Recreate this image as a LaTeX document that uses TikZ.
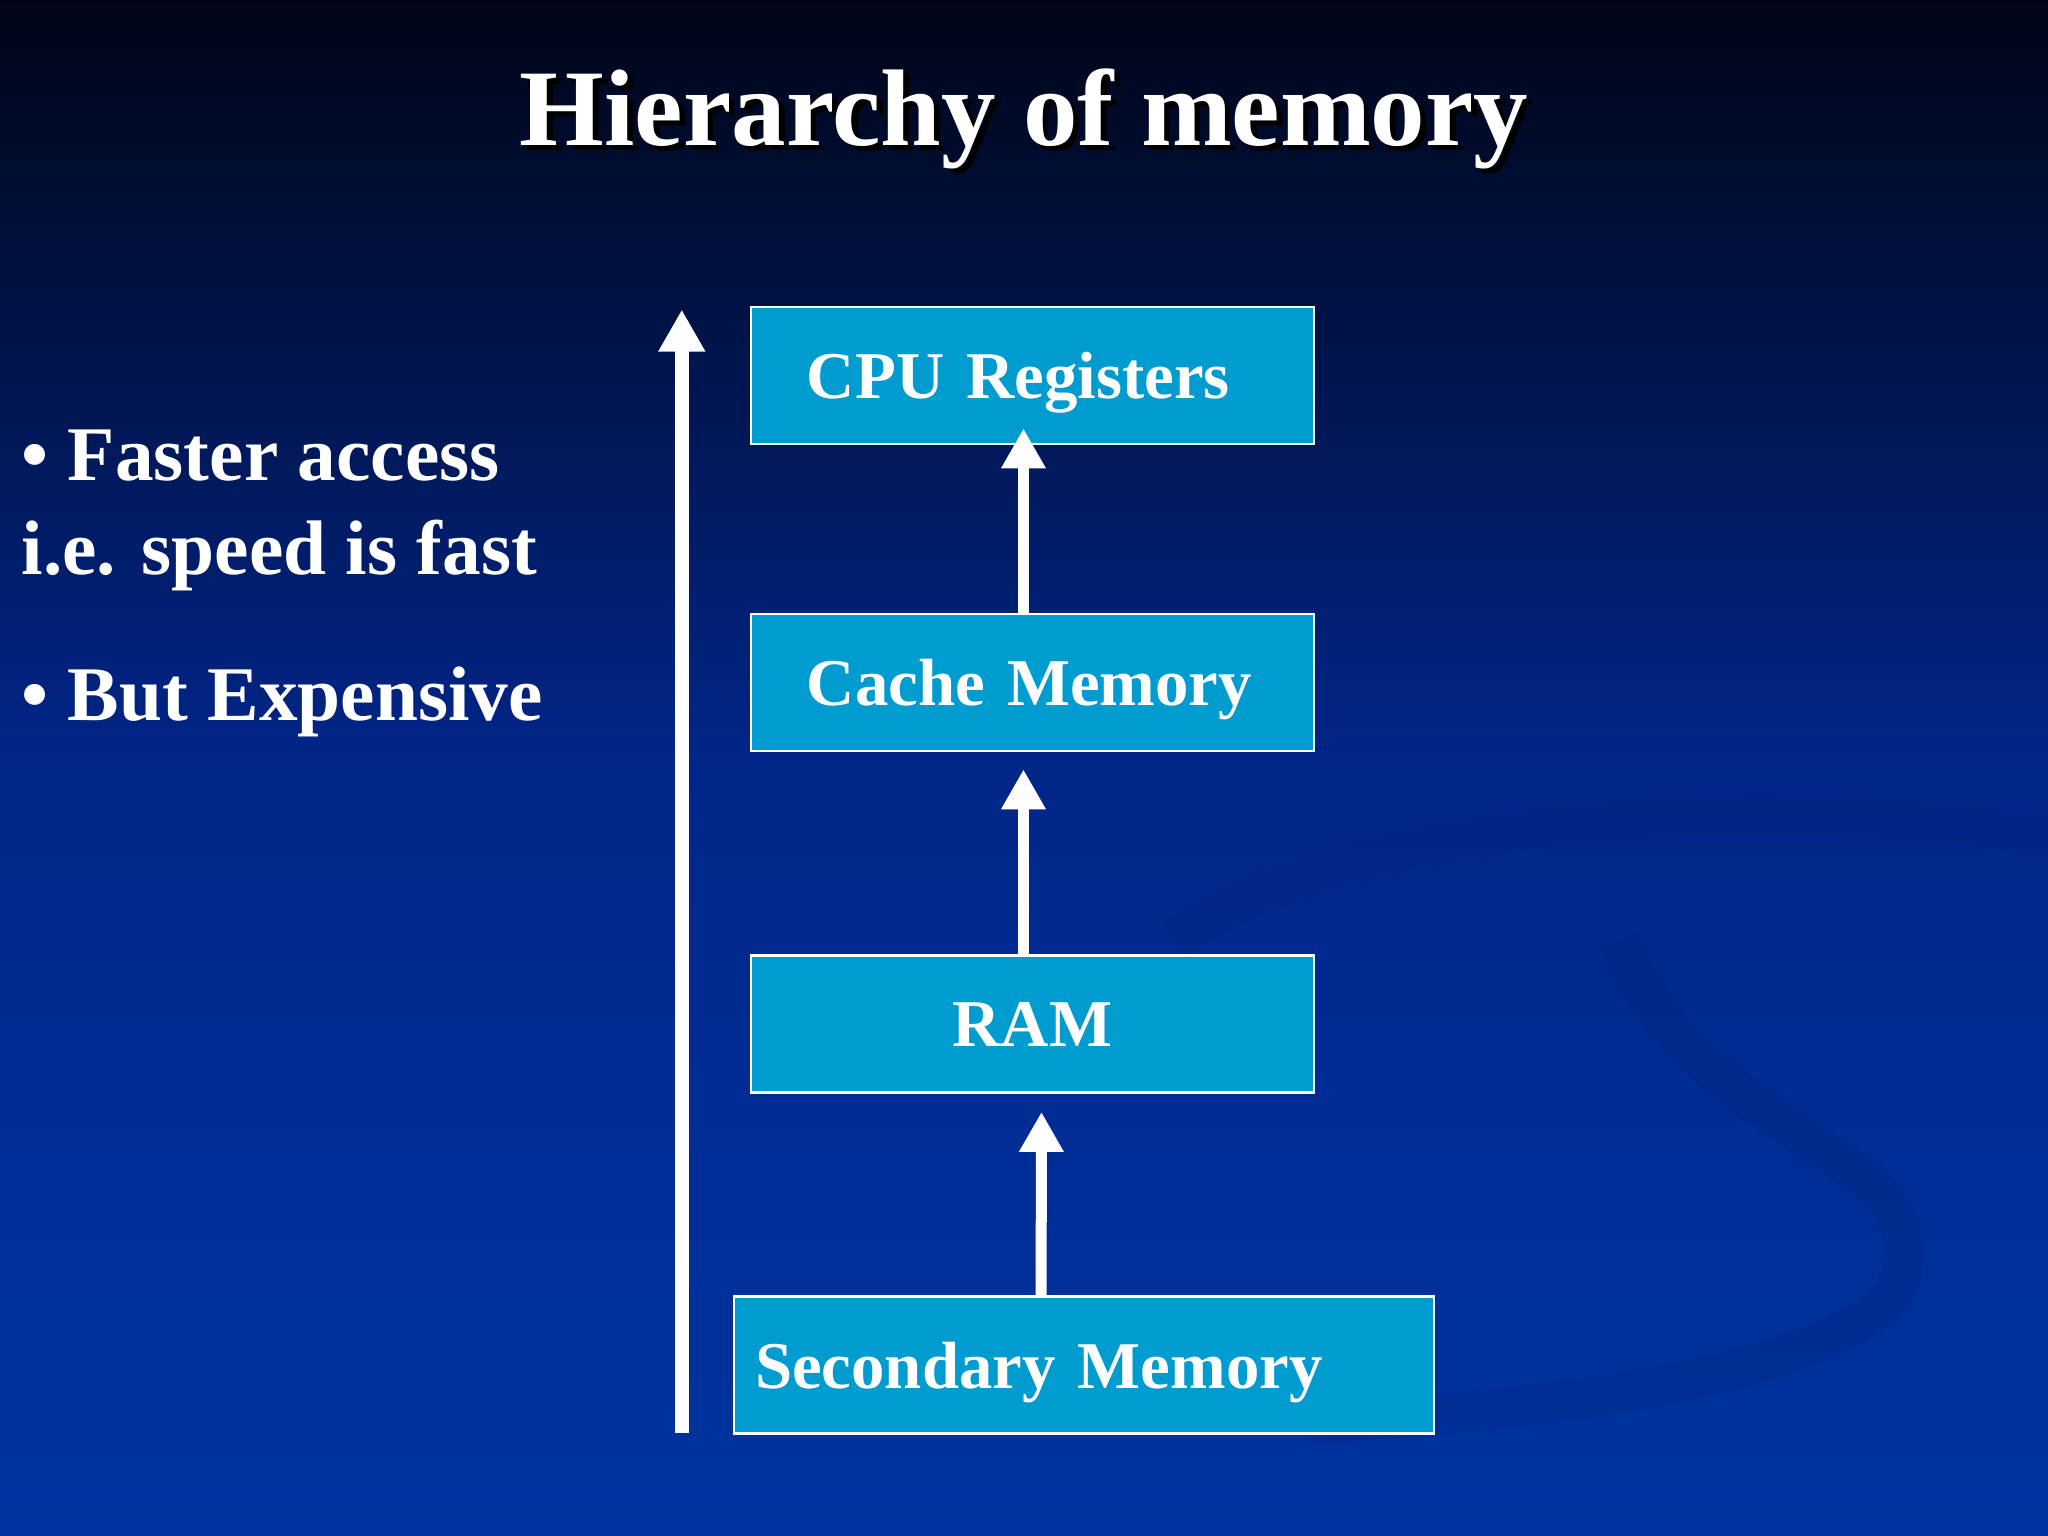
\documentclass[tikz,border=0pt]{standalone}
\usepackage{fontspec}
\setmainfont{Liberation Serif}
\usetikzlibrary{arrows.meta}
\definecolor{boxc}{HTML}{009BCF}
\definecolor{bgtop}{HTML}{000516}
\definecolor{bgmid}{HTML}{01268A}
\definecolor{bgbot}{HTML}{0034A0}
\begin{document}
\begin{tikzpicture}[x=0.0130612cm,y=-0.0130612cm,
  box/.style={draw=white,line width=0.8pt,fill=boxc,text=white,font=\bfseries\fontsize{19}{24}\selectfont,minimum height=1.37cm,inner ysep=0pt,text depth=-0.2cm},
  arr/.style={draw=white,line width=0.11cm,-{Triangle[width=0.42cm,length=0.4cm]}},
  txt/.style={text=white,font=\bfseries\fontsize{22}{28}\selectfont,anchor=base west,inner sep=0pt}]
\useasboundingbox (0,0) rectangle (1568,1176);
\shade[top color=bgtop,bottom color=bgbot,middle color=bgmid] (0,0) rectangle (1568,1176);
\draw[bgmid!80!black,line width=0.4cm,opacity=0.18] (900,720) .. controls (1000,640) and (1300,600) .. (1568,640);
\draw[bgmid!80!black,line width=0.4cm,opacity=0.18] (1240,720) .. controls (1300,880) and (1500,880) .. (1450,990) .. controls (1400,1050) and (1200,1080) .. (1000,1090);
\node[text=white,font=\bfseries\fontsize{31}{38}\selectfont] (title) at (784,93) {\rlap{\hspace{1.6pt}\raisebox{-1.6pt}{\color{black}Hierarchy of memory}}Hierarchy of memory};
\node[box,inner xsep=0.56cm,text width=4.51cm,align=left] (cpu) at (790.5,287.5) {\mbox{CPU Registers}};
\node[box,inner xsep=0.56cm,text width=4.51cm,align=left] (cache) at (790.5,522.5) {\mbox{Cache Memory}};
\node[box,inner xsep=0.2cm,text width=5.23cm,align=center] (ram) at (790.5,784) {RAM};
\node[box,inner xsep=0.21cm,text width=6.58cm,align=left] (sec) at (830,1045) {\mbox{Secondary Memory}};
\coordinate (b0) at (522,1097);
\coordinate (b1) at (522,237);
\draw[arr,line width=0.14cm,-{Triangle[width=0.44cm,length=0.42cm]}] (b0) -- (b1);
\draw[arr] ([xshift=-0.09cm]cache.north) -- ([xshift=-0.09cm,yshift=0.17cm]cpu.south);
\draw[arr] ([xshift=-0.09cm]ram.north) -- ([xshift=-0.09cm,yshift=-0.17cm]cache.south);
\draw[arr] ([xshift=-0.43cm]sec.north) -- ([xshift=0.09cm,yshift=-0.18cm]ram.south);
\node[txt] (t1) at (16,368) {\textbullet\ Faster access};
\node[txt] (t2) at (16,440) {i.e. speed is fast};
\node[txt] (t3) at (16,552) {\textbullet\ But Expensive};
\end{tikzpicture}
\end{document}
